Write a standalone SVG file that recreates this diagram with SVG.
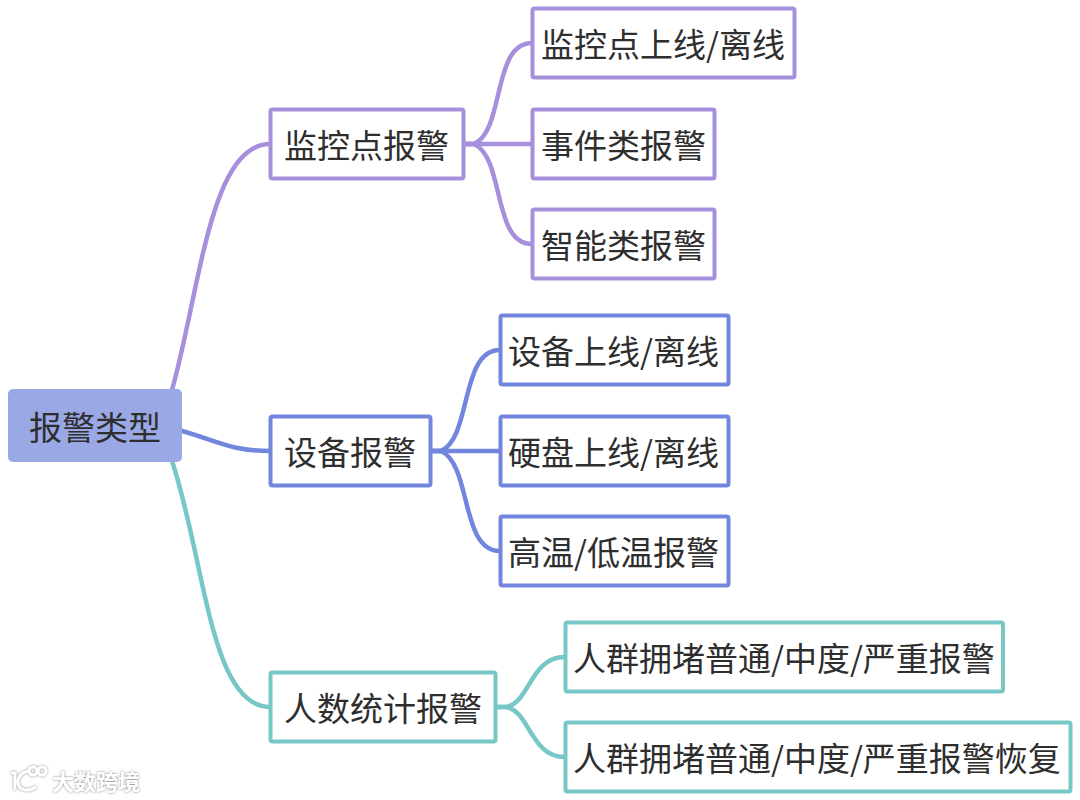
<svg xmlns="http://www.w3.org/2000/svg" width="1080" height="800" viewBox="0 0 1080 800">
<defs>
<filter id="glow" x="-20%" y="-40%" width="140%" height="180%"><feDropShadow dx="0" dy="0" stdDeviation="1.200" flood-color="#666" flood-opacity="0.9"/></filter>
</defs>
<style>
text{font-family:"Noto Sans CJK SC","Noto Sans",sans-serif;font-size:33px;fill:#2e2e2e;dominant-baseline:central}
.n{fill:#fff;stroke-width:4}
.c{fill:none;stroke-width:4.500;stroke-linecap:round}
.p{stroke:#a68fdc}.b{stroke:#7186dc}.t{stroke:#76c7c5}
.wm{font-size:22px;fill:#fff;font-weight:700}
.lg{fill:none;stroke:#fff;stroke-width:3}
</style>
<rect width="1080" height="800" fill="#fff"/>
<g id="connectors">
<path class="c p" d="M172 390C200 290 210 144 270 144"/>
<path class="c b" d="M182 431C215 440 230 451 270 451"/>
<path class="c t" d="M172 461C205 560 210 707 270 707"/>
<path class="c p" d="M464 144H474C505 130 492 43 532 43"/>
<path class="c p" d="M464 144H532"/>
<path class="c p" d="M464 144H474C505 158 492 244 532 244"/>
<path class="c b" d="M431 451H441C472 437 460 350 500 350"/>
<path class="c b" d="M431 451H500"/>
<path class="c b" d="M431 451H441C472 465 460 551 500 551"/>
<path class="c t" d="M496 707H506C530 703 530 657 565 657"/>
<path class="c t" d="M496 707H506C530 711 530 757 565 757"/>
</g>
<g id="root"><rect x="8" y="389" width="174" height="73" rx="5" fill="#9aa8e6"/><text x="95" y="426" text-anchor="middle">报警类型</text></g>
<g id="n1"><rect class="n p" x="270.500" y="109.500" width="193" height="69" rx="2"/><text x="284" y="144">监控点报警</text></g>
<g id="n2"><rect class="n b" x="270.500" y="416.500" width="160" height="69" rx="2"/><text x="284" y="451">设备报警</text></g>
<g id="n3"><rect class="n t" x="270.500" y="672.500" width="225" height="69" rx="2"/><text x="284" y="707">人数统计报警</text></g>
<g id="n11"><rect class="n p" x="532.500" y="8.500" width="262" height="69" rx="2"/><text x="541" y="43">监控点上线/离线</text></g>
<g id="n12"><rect class="n p" x="532.500" y="109.500" width="182" height="69" rx="2"/><text x="541" y="144">事件类报警</text></g>
<g id="n13"><rect class="n p" x="532.500" y="209.500" width="182" height="69" rx="2"/><text x="541" y="244">智能类报警</text></g>
<g id="n21"><rect class="n b" x="500.500" y="315.500" width="228" height="69" rx="2"/><text x="508" y="350">设备上线/离线</text></g>
<g id="n22"><rect class="n b" x="500.500" y="416.500" width="228" height="69" rx="2"/><text x="508" y="451">硬盘上线/离线</text></g>
<g id="n23"><rect class="n b" x="500.500" y="516.500" width="228" height="69" rx="2"/><text x="508" y="551">高温/低温报警</text></g>
<g id="n31"><rect class="n t" x="565.500" y="622.500" width="437.500" height="69" rx="2"/><text x="573" y="657">人群拥堵普通/中度/严重报警</text></g>
<g id="n32"><rect class="n t" x="565.500" y="722.500" width="505" height="69" rx="2"/><text x="573" y="757">人群拥堵普通/中度/严重报警恢复</text></g>
<g id="watermark" filter="url(#glow)">
<path class="lg" d="M11 773H15V790M28 771C20 773 18 778 18 782C18 789 26 793 36 787"/>
<circle class="lg" cx="33" cy="771" r="4" stroke-width="2"/><circle class="lg" cx="42" cy="771" r="4" stroke-width="2"/>
<text class="wm" x="52" y="780">大数跨境</text>
</g>
</svg>
